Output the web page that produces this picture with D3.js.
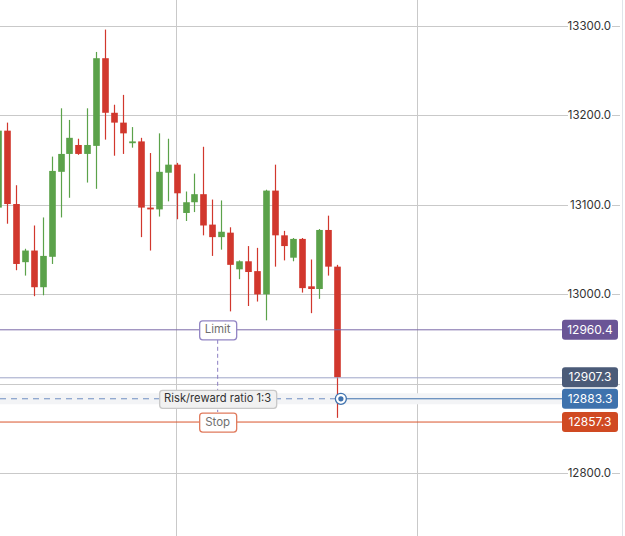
<!DOCTYPE html>
<html>
<head>
<meta charset="utf-8">
<script src="https://cdn.jsdelivr.net/npm/d3@7"></script>
<style>
  body { margin: 0; background: #fff; }
  text { font-family: Inter, "Noto Sans", sans-serif; }
</style>
</head>
<body>
<div id="chart"></div>
<script>
// candle data, oldest first (first one is cut off at the left edge)
var open  = [13097,13183,13101,13036,13049,13008,13042,13137,13157,13167,13157,13166,13264,13203,13192,13169,13171,13097,13095,13136,
             13145,13091,13103,13112,13078,13064,13069,13028,13037,13026,13000,13116,13066,13041,13062,13009,13006,13072,13031];
var high  = [13186,13192,13122,13051,13077,13086,13154,13208,13195,13174,13208,13271,13296,13212,13223,13187,13175,13158,13180,13174,
             13147,13115,13135,13165,13106,13105,13075,13038,13054,13052,13117,13145,13071,13063,13063,13039,13073,13088,13033];
var low   = [13094,13079,13027,13021,12998,12999,13034,13086,13108,13156,13125,13118,13173,13155,13157,13164,13064,13049,13087,13104,
             13084,13082,13092,13066,13043,13050,12981,13017,12987,12992,12971,13031,13038,13037,13002,12979,12995,13021,12862];
var close = [13183,13101,13034,13049,13008,13043,13138,13157,13175,13157,13167,13264,13203,13192,13180,13171,13097,13095,13137,13145,
             13113,13103,13112,13077,13064,13070,13033,13037,13025,13000,13116,13066,13054,13062,13007,13006,13072,13031,12907.3];

var yTicks = [12800, 12900, 13000, 13100, 13200, 13300];

// order levels
var limitPrice = 12960.4;
var lastPrice = 12907.3;
var entryPrice = 12883.3;
var stopPrice = 12857.3;
var rrText = "Risk/reward ratio 1:3";

var width = 625, height = 536;
var plotRight = 622;

var svg = d3.select("#chart")
  .append("svg")
    .attr("width", width)
    .attr("height", height);

var x = d3.scaleLinear()
    .domain([1, 38])
    .range([7, 337.3]);
var step = x(1) - x(0);

var y = d3.scaleLinear()
    .domain([12800, 13300])
    .range([473.3, 26]);

// grid
svg.append("g")
  .selectAll("line")
  .data(yTicks)
  .enter()
  .append("line")
    .attr("x1", 0)
    .attr("x2", 620)
    .attr("y1", d => Math.round(y(d)) + 0.5)
    .attr("y2", d => Math.round(y(d)) + 0.5)
    .attr("stroke", "#c9c9c9")
    .attr("stroke-width", 1);

svg.append("g")
  .selectAll("line")
  .data([19.95, 46.95])
  .enter()
  .append("line")
    .attr("x1", d => Math.round(x(d)) + 0.5)
    .attr("x2", d => Math.round(x(d)) + 0.5)
    .attr("y1", 0)
    .attr("y2", height)
    .attr("stroke", "#c9c9c9");

svg.append("line")
    .attr("x1", plotRight + 0.5).attr("x2", plotRight + 0.5)
    .attr("y1", 0).attr("y2", height)
    .attr("stroke", "#dfe4ea");

// band behind the entry line
svg.append("rect")
    .attr("x", 0)
    .attr("y", y(entryPrice) - 5.5)
    .attr("width", 562)
    .attr("height", 11)
    .attr("fill", "#f3f4f6");

// candles
var candles = open.map((o, i) => ({i: i, o: o, h: high[i], l: low[i], c: close[i]}));
var green = "#5ba24a", red = "#d1372d";

var cg = svg.append("g");
cg.selectAll("line")
  .data(candles)
  .enter()
  .append("line")
    .attr("x1", d => Math.round(x(d.i)) + 0.5)
    .attr("x2", d => Math.round(x(d.i)) + 0.5)
    .attr("y1", d => y(d.h))
    .attr("y2", d => y(d.l))
    .attr("stroke", d => d.c >= d.o ? green : red)
    .attr("stroke-width", 1.2);

cg.selectAll("rect")
  .data(candles)
  .enter()
  .append("rect")
    .attr("x", d => Math.round(x(d.i)) + 0.5 - step * 0.37)
    .attr("width", step * 0.74)
    .attr("y", d => y(Math.max(d.o, d.c)))
    .attr("height", d => Math.max(1.8, Math.abs(y(d.o) - y(d.c))))
    .attr("fill", d => d.c >= d.o ? green : red);

// price lines
svg.append("line")
    .attr("x1", 0).attr("x2", 562)
    .attr("y1", y(limitPrice)).attr("y2", y(limitPrice))
    .attr("stroke", "#7b6aa9");
svg.append("line")
    .attr("x1", 0).attr("x2", 564)
    .attr("y1", y(lastPrice) + 0.5).attr("y2", y(lastPrice) + 0.5)
    .attr("stroke", "#9ea5c8");
svg.append("line")
    .attr("x1", 0).attr("x2", 562)
    .attr("y1", y(stopPrice)).attr("y2", y(stopPrice))
    .attr("stroke", "#d9552b");

var markerX = x(38.4);
svg.append("line")
    .attr("x1", 0).attr("x2", markerX)
    .attr("y1", y(entryPrice)).attr("y2", y(entryPrice))
    .attr("stroke", "#6f8ec2")
    .attr("stroke-dasharray", "6,5");
svg.append("line")
    .attr("x1", markerX).attr("x2", 562)
    .attr("y1", y(entryPrice)).attr("y2", y(entryPrice))
    .attr("stroke", "#3f72ae");
svg.append("circle")
    .attr("cx", markerX).attr("cy", y(entryPrice))
    .attr("r", 5.5)
    .attr("fill", "#fff")
    .attr("stroke", "#3f72ae")
    .attr("stroke-width", 1.3);
svg.append("circle")
    .attr("cx", markerX).attr("cy", y(entryPrice))
    .attr("r", 2.6)
    .attr("fill", "#3f72ae");

// limit / stop annotation
var ax = x(24.6);
svg.append("line")
    .attr("x1", ax).attr("x2", ax)
    .attr("y1", y(limitPrice) + 10).attr("y2", y(stopPrice) - 10)
    .attr("stroke", "#8b7ec2")
    .attr("stroke-dasharray", "4,3");

function tag(text, cx, cy, w, h, fill, stroke, color, size) {
  svg.append("rect")
      .attr("x", cx - w / 2 + 0.5).attr("y", cy - h / 2 + 0.5)
      .attr("width", w).attr("height", h)
      .attr("rx", 3)
      .attr("fill", fill)
      .attr("stroke", stroke)
      .attr("stroke-width", 1.3);
  svg.append("text")
      .attr("x", cx).attr("y", cy + 0.5)
      .attr("text-anchor", "middle")
      .attr("dominant-baseline", "middle")
      .attr("font-size", size)
      .attr("fill", color)
      .text(text);
}

tag("Limit", ax, y(limitPrice), 37, 19, "#fff", "#9285c4", "#6f6f6f", 11.5);
tag("Stop", ax, y(stopPrice), 37, 19, "#fff", "#e07a5c", "#6f6f6f", 11.5);
tag(rrText, ax, y(entryPrice), 117, 18, "#f1f1f1", "#c8c8c8", "#333", 11.2);

// y axis labels
var labelled = yTicks.filter(t => [limitPrice, lastPrice, entryPrice, stopPrice]
    .every(p => Math.abs(y(t) - y(p)) > 12));
var yl = svg.append("g");
yl.selectAll("rect")
  .data(labelled)
  .enter()
  .append("rect")
    .attr("x", 568).attr("width", 44)
    .attr("y", d => y(d) - 7).attr("height", 14)
    .attr("fill", "#fff");
yl.selectAll("text")
  .data(labelled)
  .enter()
  .append("text")
    .attr("x", 611)
    .attr("y", d => y(d) + 0.5)
    .attr("text-anchor", "end")
    .attr("dominant-baseline", "middle")
    .attr("font-size", 11.5)
    .attr("fill", "#333")
    .text(d => d3.format(".1f")(d));

// price labels
var priceTags = [
  {p: limitPrice, c: "#6a5596"},
  {p: lastPrice, c: "#4b5b78"},
  {p: entryPrice, c: "#3e72ad"},
  {p: stopPrice, c: "#d04a22"}
];
priceTags.forEach(function(t) {
  svg.append("rect")
      .attr("x", 562).attr("y", y(t.p) - 10)
      .attr("width", 56).attr("height", 20)
      .attr("rx", 3)
      .attr("fill", t.c);
  svg.append("text")
      .attr("x", 590).attr("y", y(t.p) + 0.5)
      .attr("text-anchor", "middle")
      .attr("dominant-baseline", "middle")
      .attr("font-size", 12)
      .attr("fill", "#fff")
      .text(d3.format(".1f")(t.p));
});
</script>
</body>
</html>
